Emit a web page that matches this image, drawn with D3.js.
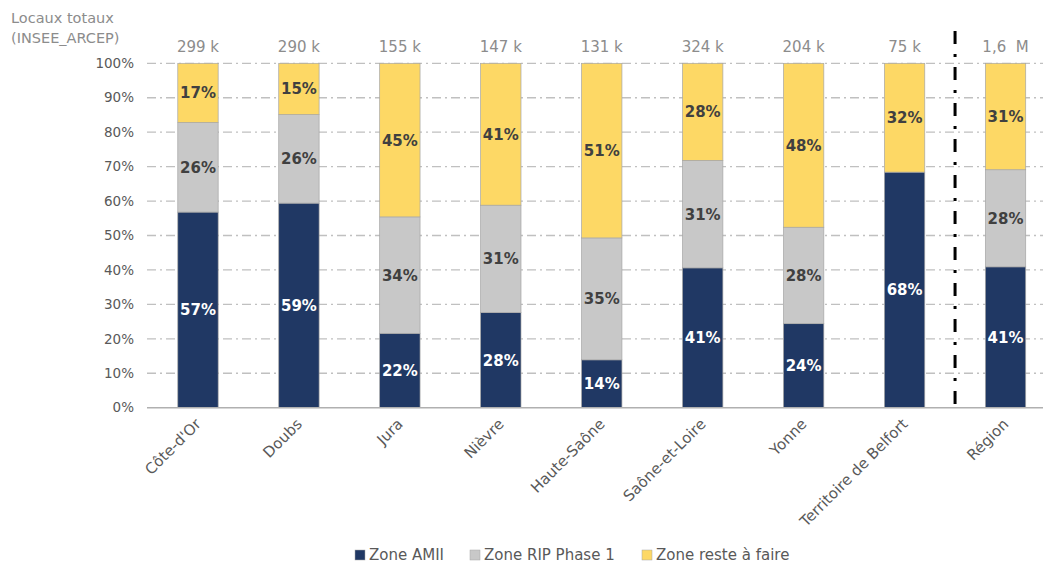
<!DOCTYPE html>
<html>
<head>
<meta charset="utf-8">
<script src="https://cdn.jsdelivr.net/npm/d3@7"></script>
<style>
  body { margin: 0; background: #fff; }
  svg { display: block; font-family: "DejaVu Sans", sans-serif; }
</style>
</head>
<body>
<svg id="chart" width="1043" height="563"></svg>
<script>
// data
var categories = ["Côte-d'Or", "Doubs", "Jura", "Nièvre", "Haute-Saône", "Saône-et-Loire", "Yonne", "Territoire de Belfort", "Région"];
var totals = ["299 k", "290 k", "155 k", "147 k", "131 k", "324 k", "204 k", "75 k", "1,6\u00a0 M"];
var zoneAmii = [56.8, 59.4, 21.6, 27.6, 13.9, 40.6, 24.4, 68.4, 40.9];
var zoneRip = [26.0, 25.7, 33.8, 31.2, 35.4, 31.2, 28.0, 0, 28.2];
var zoneReste = [17.2, 14.9, 44.6, 41.2, 50.7, 28.2, 47.6, 31.6, 30.9];
var seriesNames = ["Zone AMII", "Zone RIP Phase 1", "Zone reste à faire"];
var yTicks = [0, 10, 20, 30, 40, 50, 60, 70, 80, 90, 100];

var colors = ["#203864", "#c8c8c8", "#fdd865"];
var labelColors = ["#ffffff", "#404040", "#404040"];

var svg = d3.select("#chart");
var width = 1043, height = 563;

var x = d3.scaleBand()
    .domain(categories)
    .range([147.5, 1056])
    .paddingInner(0.6)
    .paddingOuter(0.3);

var y = d3.scaleLinear().domain([0, 100]).range([407.7, 63.3]);

var rows = categories.map(function(c, i){
    return {cat: c, AMII: zoneAmii[i], RIP: zoneRip[i], RESTE: zoneReste[i]};
});
var stack = d3.stack().keys(["AMII", "RIP", "RESTE"]);
var layers = stack(rows);

// gridlines (dash-dot)
svg.append("g")
    .selectAll("line")
    .data(yTicks.filter(function(t){ return t > 0; }))
    .enter().append("line")
    .attr("x1", 147).attr("x2", width)
    .attr("y1", function(d){ return y(d); })
    .attr("y2", function(d){ return y(d); })
    .style("stroke", "#c0c0c0")
    .style("stroke-width", 1.3)
    .style("stroke-dasharray", "9,4,2,4");

// y axis labels
svg.append("g")
    .selectAll("text")
    .data(yTicks)
    .enter().append("text")
    .attr("x", 134)
    .attr("y", function(d){ return y(d); })
    .attr("dy", "0.35em")
    .attr("text-anchor", "end")
    .style("font-size", "13.5px")
    .style("fill", "#595959")
    .text(function(d){ return d + "%"; });

// bars
var groups = svg.selectAll("g.layer")
    .data(layers)
    .enter().append("g")
    .attr("class", "layer")
    .style("fill", function(d, i){ return colors[i]; });

groups.selectAll("rect")
    .data(function(d){ return d; })
    .enter().append("rect")
    .attr("x", function(d){ return x(d.data.cat); })
    .attr("width", x.bandwidth())
    .attr("y", function(d){ return y(d[1]); })
    .attr("height", function(d){ return y(d[0]) - y(d[1]); })
    .style("stroke", "#a6a6a6")
    .style("stroke-width", 0.7);

// segment labels
layers.forEach(function(layer, li){
    svg.append("g")
        .selectAll("text")
        .data(layer.filter(function(d){ return d[1] - d[0] > 0; }))
        .enter().append("text")
        .attr("x", function(d){ return x(d.data.cat) + x.bandwidth() / 2; })
        .attr("y", function(d){ return y((d[0] + d[1]) / 2); })
        .attr("dy", "0.36em")
        .attr("text-anchor", "middle")
        .style("font-size", "15px")
        .style("font-weight", "bold")
        .style("fill", labelColors[li])
        .text(function(d){ return Math.round(d[1] - d[0]) + "%"; });
});

// x axis line
svg.append("line")
    .attr("x1", 147).attr("x2", width)
    .attr("y1", y(0)).attr("y2", y(0))
    .style("stroke", "#b0b0b0")
    .style("stroke-width", 1.5);

// totals on top
svg.append("g")
    .selectAll("text")
    .data(totals)
    .enter().append("text")
    .attr("x", function(d, i){ return x(categories[i]) + x.bandwidth() / 2; })
    .attr("y", 52)
    .attr("text-anchor", "middle")
    .style("font-size", "15px")
    .style("fill", "#8c8c8c")
    .text(function(d){ return d; });

// category labels rotated
svg.append("g")
    .selectAll("text")
    .data(categories)
    .enter().append("text")
    .attr("transform", function(d){
        return "translate(" + (x(d) + x.bandwidth() / 2 + 4) + ",425) rotate(-45)";
    })
    .attr("text-anchor", "end")
    .style("font-size", "15px")
    .style("fill", "#595959")
    .text(function(d){ return d; });

// separator before Région
var sepX = (x("Territoire de Belfort") + x.bandwidth() + x("Région")) / 2;
svg.append("line")
    .attr("x1", sepX).attr("x2", sepX)
    .attr("y1", 31).attr("y2", y(0))
    .style("stroke", "#000")
    .style("stroke-width", 3)
    .style("stroke-dasharray", "13,10,3,10");

// top-left note
svg.append("text")
    .attr("x", 11).attr("y", 23)
    .style("font-size", "14.5px")
    .style("fill", "#8c8c8c")
    .text("Locaux totaux");
svg.append("text")
    .attr("x", 11).attr("y", 43)
    .style("font-size", "14.5px")
    .style("fill", "#8c8c8c")
    .text("(INSEE_ARCEP)");

// legend
var legendX = [355, 470, 642];
var legend = svg.append("g")
    .selectAll("g")
    .data(seriesNames)
    .enter().append("g")
    .attr("transform", function(d, i){ return "translate(" + legendX[i] + ",555)"; });
legend.append("rect")
    .attr("x", 0).attr("y", -5)
    .attr("width", 10).attr("height", 10)
    .style("fill", function(d, i){ return colors[i]; })
    .style("stroke", "#a6a6a6")
    .style("stroke-width", 0.5);
legend.append("text")
    .attr("x", 14)
    .attr("dy", "0.35em")
    .style("font-size", "15px")
    .style("fill", "#595959")
    .text(function(d){ return d; });
</script>
</body>
</html>
